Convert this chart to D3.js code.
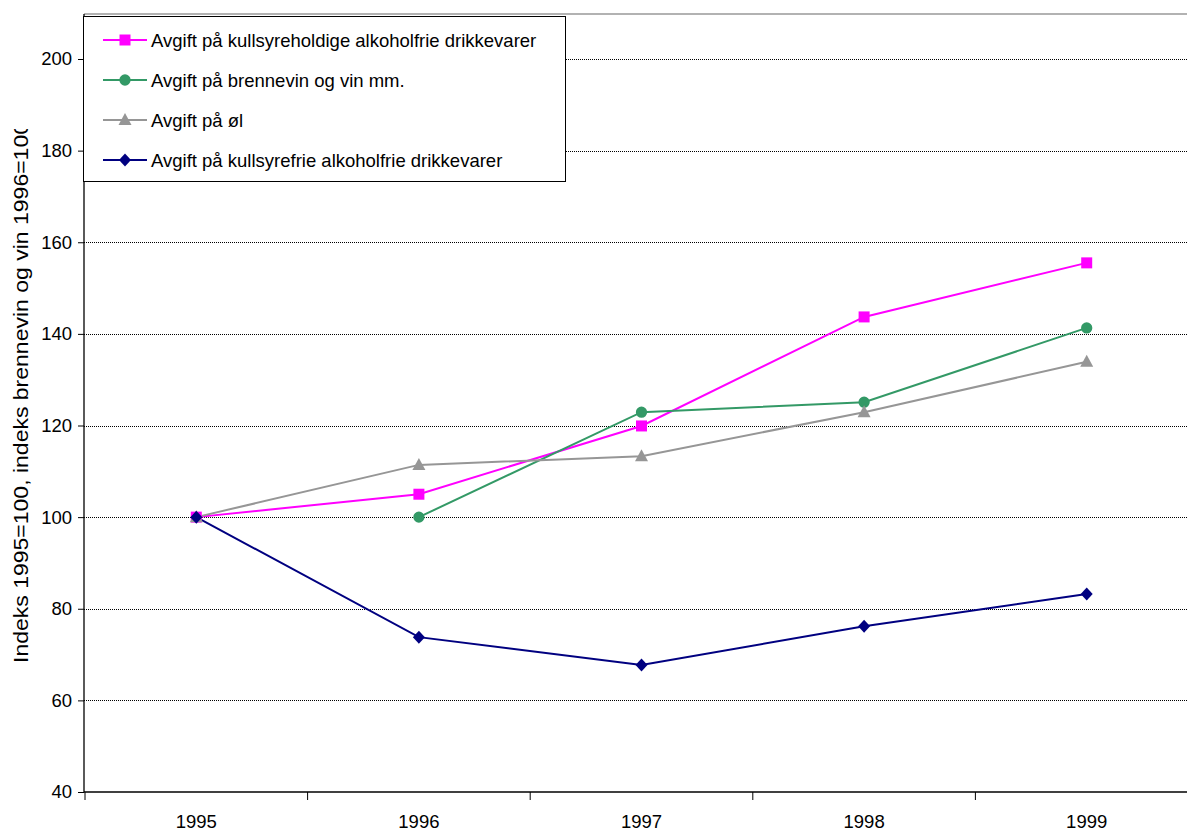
<!DOCTYPE html>
<html><head><meta charset="utf-8">
<script src="https://cdn.jsdelivr.net/npm/d3@7"></script>
<style>body{margin:0;background:#fff}svg{display:block}text{font-family:"Liberation Sans",Arial,sans-serif;fill:#000}</style>
</head><body><svg id="c" width="1187" height="832"></svg>
<script>
const years = ["1995","1996","1997","1998","1999"];
const yTicks = [40,60,80,100,120,140,160,180,200];
const sKullsyreholdige = [100,105,119.9,143.7,155.5];
const sBrennevin = [null,100,122.9,125.1,141.3];
const sOl = [100,111.4,113.3,122.9,133.9];
const sKullsyrefrie = [100,73.8,67.7,76.2,83.2];
const seriesNames = ["Avgift på kullsyreholdige alkoholfrie drikkevarer","Avgift på brennevin og vin mm.","Avgift på øl","Avgift på kullsyrefrie alkoholfrie drikkevarer"];
const seriesColors = ["#FF00FF","#339966","#969696","#000080"];
const seriesMarkers = ["square","circle","triangle","diamond"];
const seriesValues = [sKullsyreholdige,sBrennevin,sOl,sKullsyrefrie];
const yTitle = "Indeks 1995=100, indeks brennevin og vin 1996=100";

const FS = 18.5;
const svg = d3.select("#c");
const L=84, T=14, B=792, bandW=222.6;
const x = d3.scaleBand().domain(years).range([L+1, L+1+bandW*years.length]);
const y = d3.scaleLinear().domain([40,210]).range([B, B-(170*(733/160))]);

// gridlines
svg.append("g").selectAll("line").data(yTicks.filter(d=>d>40)).join("line")
  .attr("x1",L).attr("x2",1187).attr("y1",d=>Math.round(y(d))+0.5).attr("y2",d=>Math.round(y(d))+0.5)
  .attr("stroke","#000").attr("stroke-width",1).attr("stroke-dasharray","1,1");
// top border
svg.append("line").attr("x1",L).attr("x2",1187).attr("y1",T).attr("y2",T).attr("stroke","#999").attr("stroke-width",1.5);

// y axis
const ya = svg.append("g").attr("transform",`translate(${L},0)`)
  .call(d3.axisLeft(y).tickValues(yTicks).tickSize(6).tickPadding(6));
ya.attr("font-size",null).attr("font-family",null);
ya.select(".domain").attr("d",`M0,${T}V${B}`).attr("stroke","#000").attr("stroke-width",1.3);
ya.selectAll("text").style("font-size",FS+"px").attr("fill","#000");
ya.selectAll(".tick line").attr("stroke","#000");

// x axis
const xa = svg.append("g").attr("transform",`translate(0,${B})`)
  .call(d3.axisBottom(x).tickSize(0).tickPadding(0));
xa.attr("font-size",null).attr("font-family",null);
xa.select(".domain").attr("d",`M${L},0H1187`).attr("stroke","#000").attr("stroke-width",1.5);
xa.selectAll("text").attr("dy",null).attr("y",36).style("font-size",FS+"px").attr("fill","#000");
svg.append("g").selectAll("line").data(years).join("line")
  .attr("x1",d=>x(d)).attr("x2",d=>x(d)).attr("y1",B).attr("y2",B+8).attr("stroke","#000");

// y title with clip
svg.append("clipPath").attr("id","tclip").append("rect").attr("x",0).attr("y",129).attr("width",60).attr("height",700);
svg.append("g").attr("clip-path","url(#tclip)").append("text")
  .attr("transform",`translate(28,663) rotate(-90)`).style("font-size","20.5px")
  .attr("textLength",541).attr("lengthAdjust","spacingAndGlyphs").text(yTitle);

// markers
function marker(g, type, color){
  let d;
  if(type==="square") d="M-5.5,-5.5H5.5V5.5H-5.5Z";
  else if(type==="circle") d=d3.symbol(d3.symbolCircle,100)();
  else if(type==="triangle") d="M0,-7L6.5,5L-6.5,5Z";
  else d="M0,-6.5L6,0L0,6.5L-6,0Z";
  g.append("path").attr("d",d).attr("fill",color).attr("stroke","none");
}

const line = d3.line().defined(d=>d.v!=null).x(d=>x(d.k)+x.bandwidth()/2).y(d=>y(d.v));
seriesValues.forEach((vals,i)=>{
  const data = years.map((k,j)=>({k,v:vals[j]}));
  svg.append("path").datum(data).attr("d",line).attr("fill","none").attr("stroke",seriesColors[i]).attr("stroke-width",2);
});
seriesValues.forEach((vals,i)=>{
  const data = years.map((k,j)=>({k,v:vals[j]})).filter(d=>d.v!=null);
  data.forEach(d=>{
    const g = svg.append("g").attr("transform",`translate(${x(d.k)+x.bandwidth()/2},${y(d.v)})`);
    marker(g, seriesMarkers[i], seriesColors[i]);
  });
});

// legend
const lg = svg.append("g");
lg.append("rect").attr("x",83.5).attr("y",16.5).attr("width",482).attr("height",165).attr("fill","#fff").attr("stroke","#000").attr("stroke-width",1);
seriesNames.forEach((n,i)=>{
  const cy = 40 + i*40;
  lg.append("line").attr("x1",103).attr("x2",147).attr("y1",cy).attr("y2",cy).attr("stroke",seriesColors[i]).attr("stroke-width",2);
  const g = lg.append("g").attr("transform",`translate(125,${cy})`);
  marker(g, seriesMarkers[i], seriesColors[i]);
  lg.append("text").attr("x",151).attr("y",cy+7).style("font-size",FS+"px").text(n);
});
</script></body></html>
